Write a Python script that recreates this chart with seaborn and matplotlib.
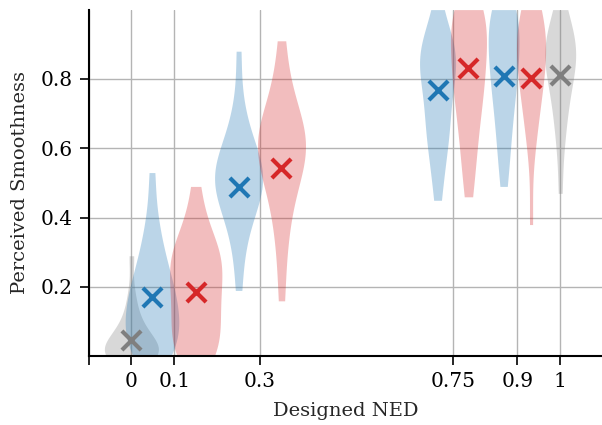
import numpy as np
import pandas as pd
import matplotlib
matplotlib.use("Agg")
import matplotlib.pyplot as plt
import seaborn as sns

sns.set_style("ticks")
plt.rcParams['font.family'] = ['DejaVu Serif']

# ---------------- data ----------------
x_ticks = [-0.1, 0, 0.1, 0.3, 0.75, 0.9, 1]
x_tick_labels = ['', '0', '0.1', '0.3', '0.75', '0.9', '1']
y_ticks = [0.2, 0.4, 0.6, 0.8]

# grey reference violins
grey_x = [0.0, 1.0]
grey_means = [0.048, 0.811]
grey_s0 = [0.0, 0.0, 0.0, 0.0, 0.0, 0.0, 0.01, 0.02, 0.02, 0.03, 0.04, 0.05,
           0.06, 0.08, 0.10, 0.13, 0.18, 0.29]
grey_s1 = [0.47, 0.60, 0.66, 0.70, 0.74, 0.77, 0.80, 0.82, 0.84, 0.86, 0.87,
           0.88, 0.89, 0.90, 0.92, 0.94, 0.97, 1.0]

# blue series
blue_x = [0.048, 0.25, 0.714, 0.868]
blue_means = [0.172, 0.489, 0.768, 0.808]
blue_s0 = [0.0, 0.0, 0.01, 0.02, 0.03, 0.05, 0.06, 0.08, 0.09, 0.10, 0.12,
           0.13, 0.15, 0.16, 0.18, 0.19, 0.21, 0.23, 0.25, 0.28, 0.31, 0.35,
           0.41, 0.53]
blue_s1 = [0.19, 0.30, 0.36, 0.40, 0.43, 0.45, 0.47, 0.48, 0.50, 0.51, 0.52,
           0.53, 0.54, 0.55, 0.57, 0.59, 0.62, 0.66, 0.72, 0.88]
blue_s2 = [0.45, 0.52, 0.57, 0.61, 0.64, 0.66, 0.68, 0.71, 0.74, 0.77, 0.80,
           0.82, 0.84, 0.85, 0.86, 0.87, 0.88, 0.89, 0.91, 0.94, 1.0]
blue_s3 = [0.49, 0.55, 0.60, 0.64, 0.68, 0.71, 0.74, 0.77, 0.79, 0.81, 0.83,
           0.85, 0.87, 0.89, 0.91, 0.93, 0.95, 0.97, 0.99, 1.0, 1.0, 1.0]

# red series
red_x = [0.15, 0.35, 0.786, 0.932]
red_means = [0.186, 0.544, 0.831, 0.802]
red_s0 = [0.0, 0.0, 0.0, 0.02, 0.04, 0.06, 0.08, 0.10, 0.12, 0.14, 0.16,
          0.18, 0.20, 0.22, 0.24, 0.26, 0.27, 0.28, 0.30, 0.31, 0.33, 0.36,
          0.41, 0.49]
red_s1 = [0.16, 0.30, 0.38, 0.44, 0.48, 0.52, 0.55, 0.57, 0.59, 0.60, 0.61,
          0.62, 0.63, 0.65, 0.67, 0.70, 0.74, 0.80, 0.91]
red_s2 = [0.46, 0.52, 0.57, 0.61, 0.65, 0.68, 0.71, 0.74, 0.76, 0.78, 0.80,
          0.82, 0.84, 0.86, 0.88, 0.90, 0.92, 0.94, 0.96, 0.98, 1.0, 1.0,
          1.0, 1.0]
red_s3 = [0.38, 0.60, 0.66, 0.70, 0.74, 0.77, 0.80, 0.82, 0.84, 0.86, 0.88,
          0.90, 0.92, 0.94, 0.96, 0.98, 1.0, 1.0]

# ---------------- style ----------------
BLUE, RED, GREY = '#1f77b4', '#d62728', '#7f7f7f'
series = [
    (GREY, grey_x, [grey_s0, grey_s1], [0.126, 0.072]),
    (BLUE, blue_x, [blue_s0, blue_s1, blue_s2, blue_s3], [0.125, 0.112, 0.084, 0.072]),
    (RED, red_x, [red_s0, red_s1, red_s2, red_s3], [0.122, 0.112, 0.084, 0.068]),
]

fig = plt.figure(figsize=(6.02, 4.25), dpi=100)
ax = fig.add_axes([88.5 / 602, 68.7 / 425, 514.6 / 602, 346.7 / 425])
ax.set_axisbelow(True)
ax.grid(True, color='#b4b4b4', linewidth=1.0)

for color, xs, samples, widths in series:
    for xpos, s, w in zip(xs, samples, widths):
        df = pd.DataFrame({'x': [xpos] * len(s), 'y': s})
        sns.violinplot(data=df, x='x', y='y', native_scale=True, orient='v',
                       width=w, cut=0, inner=None, density_norm='width',
                       color=color, saturation=1, alpha=0.3, linewidth=0,
                       ax=ax)

for color, xs, means in [(GREY, grey_x, grey_means), (BLUE, blue_x, blue_means),
                         (RED, red_x, red_means)]:
    sns.scatterplot(x=xs, y=means, marker='x', s=190, linewidth=3.0,
                    color=color, ax=ax, zorder=5)

ax.set_xlim(-0.1, 1.1)
ax.set_ylim(0, 1)
ax.set_xticks(x_ticks)
ax.set_xticklabels(x_tick_labels)
ax.set_yticks(y_ticks)
ax.set_yticklabels([f'{v:.1f}' for v in y_ticks])
ax.set_xlabel('Designed NED', fontsize=14, labelpad=8)
ax.set_ylabel('Perceived Smoothness', fontsize=14, labelpad=8)
for sp in ['top', 'right']:
    ax.spines[sp].set_visible(False)
for sp in ['left', 'bottom']:
    ax.spines[sp].set_linewidth(1.5)
    ax.spines[sp].set_color('black')
ax.tick_params(direction='out', length=6.5, width=1.2, labelsize=14.5,
               colors='black', pad=5)

fig.savefig('out.png', dpi=100)
